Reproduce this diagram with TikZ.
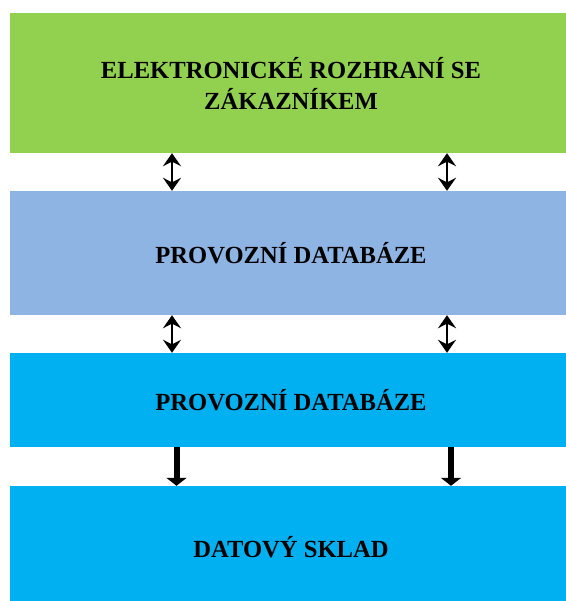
\documentclass[tikz,border=0pt]{standalone}
\usepackage{fontspec}
\setmainfont{Liberation Serif}
\usetikzlibrary{arrows.meta}
\definecolor{boxgreen}{RGB}{146,208,80}
\definecolor{boxblue}{RGB}{142,180,227}
\definecolor{boxcyan}{RGB}{0,176,240}
\begin{document}
\begin{tikzpicture}[x=1pt,y=-1pt,
  band/.style={rectangle, inner sep=0pt, minimum width=562pt, align=center,
    font=\fontsize{24.6}{31}\selectfont\bfseries, text=black},
  dbl/.style={line width=2.4pt, {Stealth[length=13pt,width=18pt,inset=4.5pt]}-{Stealth[length=13pt,width=18pt,inset=4.5pt]}},
  down/.style={line width=6pt, -{Triangle[length=8pt,width=20pt]}}]
\useasboundingbox (0,0) rectangle (565,601);
\fill[white] (0,0) rectangle (565,601);
\node[band, fill=boxgreen, minimum height=140pt] (g) at (291,83) {ELEKTRONICKÉ ROZHRANÍ SE\\ZÁKAZNÍKEM};
\node[band, fill=boxblue, minimum height=124pt] (b) at (291,253) {PROVOZNÍ DATABÁZE};
\node[band, fill=boxcyan, minimum height=94pt] (c) at (291,400) {PROVOZNÍ DATABÁZE};
\node[band, fill=boxcyan, minimum height=122pt] (d) at (291,547) {DATOVÝ SKLAD};
\coordinate (xl) at (172,0);
\coordinate (xr) at (447,0);
\coordinate (xdl) at (176.5,0);
\coordinate (xdr) at (451,0);
\draw[dbl] (xl |- g.south) -- (xl |- b.north);
\draw[dbl] (xr |- g.south) -- (xr |- b.north);
\draw[dbl] (xl |- b.south) -- (xl |- c.north);
\draw[dbl] (xr |- b.south) -- (xr |- c.north);
\draw[down] (xdl |- c.south) -- (xdl |- d.north);
\draw[down] (xdr |- c.south) -- (xdr |- d.north);
\end{tikzpicture}
\end{document}
